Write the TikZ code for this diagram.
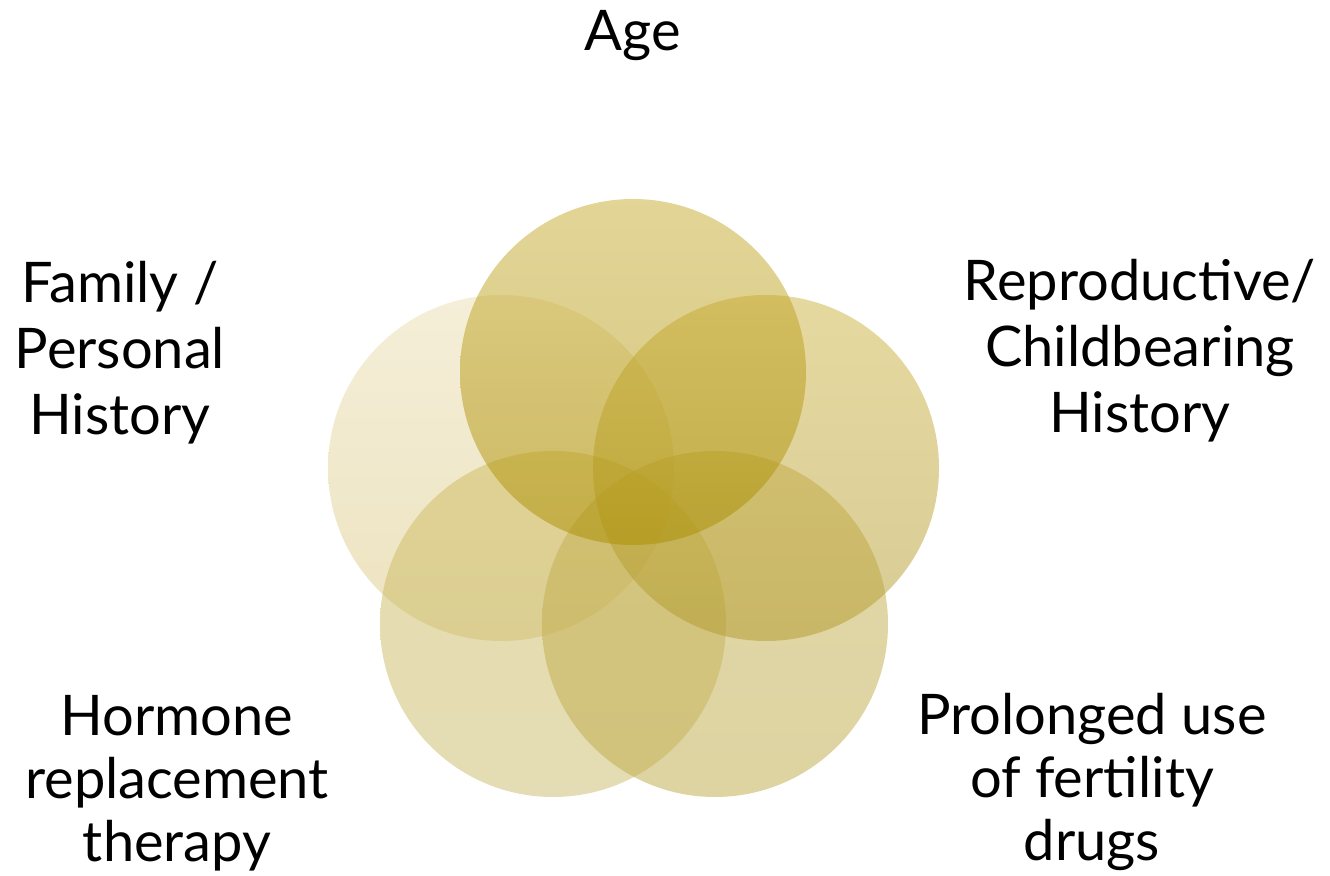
\documentclass[tikz,border=0pt]{standalone}
\usepackage{fontspec}
\setmainfont{Lato}
% circle colours, top and bottom of each shading
\definecolor{agetop}{RGB}{199,171,45}
\definecolor{agebot}{RGB}{169,141,0}
\definecolor{reprotop}{RGB}{205,179,65}
\definecolor{reprobot}{RGB}{177,153,43}
\definecolor{drugtop}{RGB}{197,177,81}
\definecolor{drugbot}{RGB}{189,169,69}
\definecolor{hrttop}{RGB}{207,187,93}
\definecolor{hrtbot}{RGB}{201,185,105}
\definecolor{famtop}{RGB}{235,223,179}
\definecolor{fambot}{RGB}{219,199,129}
\begin{document}
\begin{tikzpicture}[x=0.5pt,y=-0.5pt,
  venn/.style={circle,minimum size=173pt,inner sep=0pt,fill opacity=0.5},
  factor/.style={align=center,anchor=north,inner sep=0pt,font=\fontsize{28}{33}\selectfont},
  lowfactor/.style={factor,font=\fontsize{28}{31.5}\selectfont}]
\useasboundingbox (0,0) rectangle (1330,876);
% the five circles
\node[venn,top color=famtop,bottom color=fambot] (fam) at (501,468) {};
\node[venn,top color=hrttop,bottom color=hrtbot] (hrt) at (553,624) {};
\node[venn,top color=drugtop,bottom color=drugbot] (drug) at (715,624) {};
\node[venn,top color=reprotop,bottom color=reprobot] (repro) at (766,468) {};
\node[venn,top color=agetop,bottom color=agebot] (age) at (633,372) {};
% labels
\node[factor] (agetext) at (633,10) {Age};
\node[factor] (reprotext) at (1140,259) {Reproductive/\\Childbearing\\History};
\node[lowfactor] (drugtext) at (1092,693) {Prolonged use\\of fertility\\drugs};
\node[lowfactor] (hrttext) at (177,695) {Hormone\\replacement\\therapy};
\node[factor] (famtext) at (120,261) {Family /\\Personal\\History};
\end{tikzpicture}
\end{document}
